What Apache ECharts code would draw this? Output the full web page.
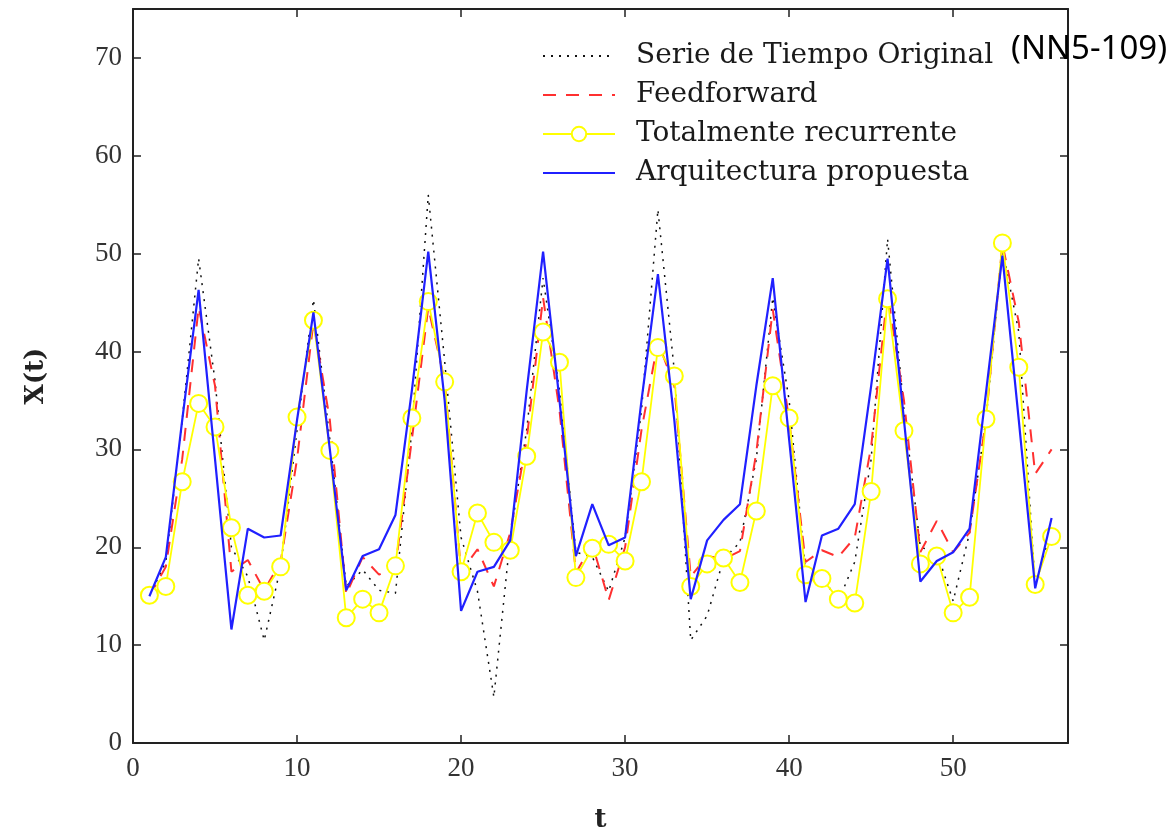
<!DOCTYPE html>
<html>
<head>
<meta charset="utf-8">
<script src="https://cdn.jsdelivr.net/npm/echarts@6/dist/echarts.min.js"></script>
<style>
html,body{margin:0;padding:0;background:#fff;}
#chart{width:1175px;height:834px;}
</style>
</head>
<body>
<div id="chart"></div>
<script>
// ---- data ----
const tValues = [1,2,3,4,5,6,7,8,9,10,11,12,13,14,15,16,17,18,19,20,21,22,23,24,25,26,27,28,29,30,31,32,33,34,35,36,37,38,39,40,41,42,43,44,45,46,47,48,49,50,51,52,53,54,55,56];

const original = [15,18.5,33,49.5,37,20,17,10.5,18,32,45.3,31,16,17.7,15.6,15.3,32,56,39,21,15.5,4.7,21,32,47.5,36,19.5,19,15.5,21,34,54.5,38,10.5,13,18.8,20.5,29,45.5,35,17.5,17,14.5,18.5,29,51.5,34,20,19.5,14.5,21.5,33,50.5,42,16,22];

const feedforward = [15,18,29,44.5,36.5,17.5,18.7,15.6,18.5,29,43,33,15.2,19,17.2,18,31,44.5,37,17.5,19.8,16,21.5,31,45.5,34,17.4,20.3,14.6,20,32,41,36.5,17,19.1,18.8,19.6,29.7,44.3,33,18.5,19.7,19,21,30.3,46,35,19.5,22.7,19.5,21.5,33,51,43,27.5,30];

const recurrente = [15.1,16,26.7,34.7,32.3,22,15.1,15.5,18,33.3,43.2,29.9,12.8,14.7,13.3,18.1,33.2,45.1,36.9,17.5,23.5,20.5,19.7,29.3,42,38.9,16.9,19.9,20.3,18.6,26.7,40.4,37.5,16,18.3,18.9,16.4,23.7,36.5,33.2,17.2,16.8,14.7,14.3,25.7,45.4,31.9,18.3,19.1,13.3,14.9,33.1,51.1,38.4,16.2,21.1];

const propuesta = [15,19,33,46.3,29,11.6,21.9,21,21.2,33,44,30,15.6,19.1,19.8,23.3,36,50.2,35,13.5,17.5,18,20.7,36,50.2,35,19.1,24.4,20.2,21,35,47.9,33,14.7,20.7,22.8,24.4,36.5,47.5,31,14.4,21.2,21.9,24.4,36.5,49.5,33,16.5,18.6,19.5,21.9,35.8,49.8,33,15.8,23];

const seriesNames = ['Serie de Tiempo Original', 'Feedforward', 'Totalmente recurrente', 'Arquitectura propuesta'];
const xTickLabels = ['0','10','20','30','40','50'];
const yTickLabels = ['0','10','20','30','40','50','60','70'];
const xTitle = 't';
const yTitle = 'X(t)';
const annotation = '(NN5-109)';

function pairs(vals){ return tValues.map((t,i)=>[t, vals[i]]); }

const serif = 'DejaVu Serif';
const tickFont = 'Liberation Serif';

const chart = echarts.init(document.getElementById('chart'));
const axisLineStyle = {color:'#222', width:2};
const tickStyle = {show:true, inside:true, length:8, lineStyle:{color:'#222', width:1.5}};

const option = {
  backgroundColor:'#fff',
  animation:false,
  grid:{left:133, right:107, top:9, bottom:91, containLabel:false, outerBoundsMode:'none'},
  legend:{
    orient:'vertical',
    left:537, top:37,
    itemWidth:72, itemHeight:18,
    itemGap:11,
    align:'left',
    textStyle:{fontFamily:serif, fontSize:28, color:'#1a1a1a', lineHeight:28, padding:[0,0,0,16]},
    data:[
      {name:seriesNames[0], itemStyle:{opacity:0}},
      {name:seriesNames[1], itemStyle:{opacity:0}},
      {name:seriesNames[2]},
      {name:seriesNames[3], itemStyle:{opacity:0}}
    ]
  },
  xAxis:[{
    type:'value', min:0, max:57, interval:10, position:'bottom',
    axisLine:{show:true, onZero:false, lineStyle:axisLineStyle},
    axisTick:tickStyle,
    axisLabel:{showMaxLabel:false, fontFamily:tickFont, fontSize:27, color:'#333', margin:12,
      formatter:(v)=>{const i=v/10; return xTickLabels[i]!==undefined?xTickLabels[i]:'';}},
    splitLine:{show:false},
    name:xTitle, nameLocation:'middle', nameGap:64,
    nameTextStyle:{fontFamily:serif, fontSize:26, fontWeight:'bold', color:'#222'}
  },{
    type:'value', min:0, max:57, interval:10, position:'top',
    axisLine:{show:true, onZero:false, lineStyle:axisLineStyle},
    axisTick:tickStyle,
    axisLabel:{show:false}, splitLine:{show:false}
  }],
  yAxis:[{
    type:'value', min:0, max:75, interval:10, position:'left',
    axisLine:{show:true, onZero:false, lineStyle:axisLineStyle},
    axisTick:tickStyle,
    axisLabel:{showMaxLabel:false, fontFamily:tickFont, fontSize:27, color:'#333', margin:11,
      formatter:(v)=>{const i=v/10; return yTickLabels[i]!==undefined?yTickLabels[i]:'';}},
    splitLine:{show:false},
    name:yTitle, nameLocation:'middle', nameGap:84, nameRotate:90,
    nameTextStyle:{fontFamily:serif, fontSize:26, fontWeight:'bold', color:'#222'}
  },{
    type:'value', min:0, max:75, interval:10, position:'right',
    axisLine:{show:true, onZero:false, lineStyle:axisLineStyle},
    axisTick:tickStyle,
    axisLabel:{show:false}, splitLine:{show:false}
  }],
  graphic:[{
    type:'text', left:1011, top:33, z:100,
    style:{text:annotation, fontFamily:'Noto Sans', fontSize:33, fill:'#000'}
  }],
  series:[
    {name:seriesNames[0], type:'line', data:pairs(original), symbol:'none',
     lineStyle:{color:'#111', width:1.5, type:[2,6]}, itemStyle:{color:'#111'}, z:1},
    {name:seriesNames[1], type:'line', data:pairs(feedforward), symbol:'none',
     lineStyle:{color:'#ff3030', width:2, type:[13,10]}, itemStyle:{color:'#ff3030'}, z:2},
    {name:seriesNames[2], type:'line', data:pairs(recurrente), symbol:'emptyCircle', symbolSize:17,
     lineStyle:{color:'#ffff00', width:1.8}, itemStyle:{color:'#ffff00', borderColor:'#f2f200', borderWidth:1.8}, z:3},
    {name:seriesNames[3], type:'line', data:pairs(propuesta), symbol:'none',
     lineStyle:{color:'#2020ff', width:2.2}, itemStyle:{color:'#2020ff'}, z:4}
  ]
};
chart.setOption(option);
</script>
</body>
</html>
